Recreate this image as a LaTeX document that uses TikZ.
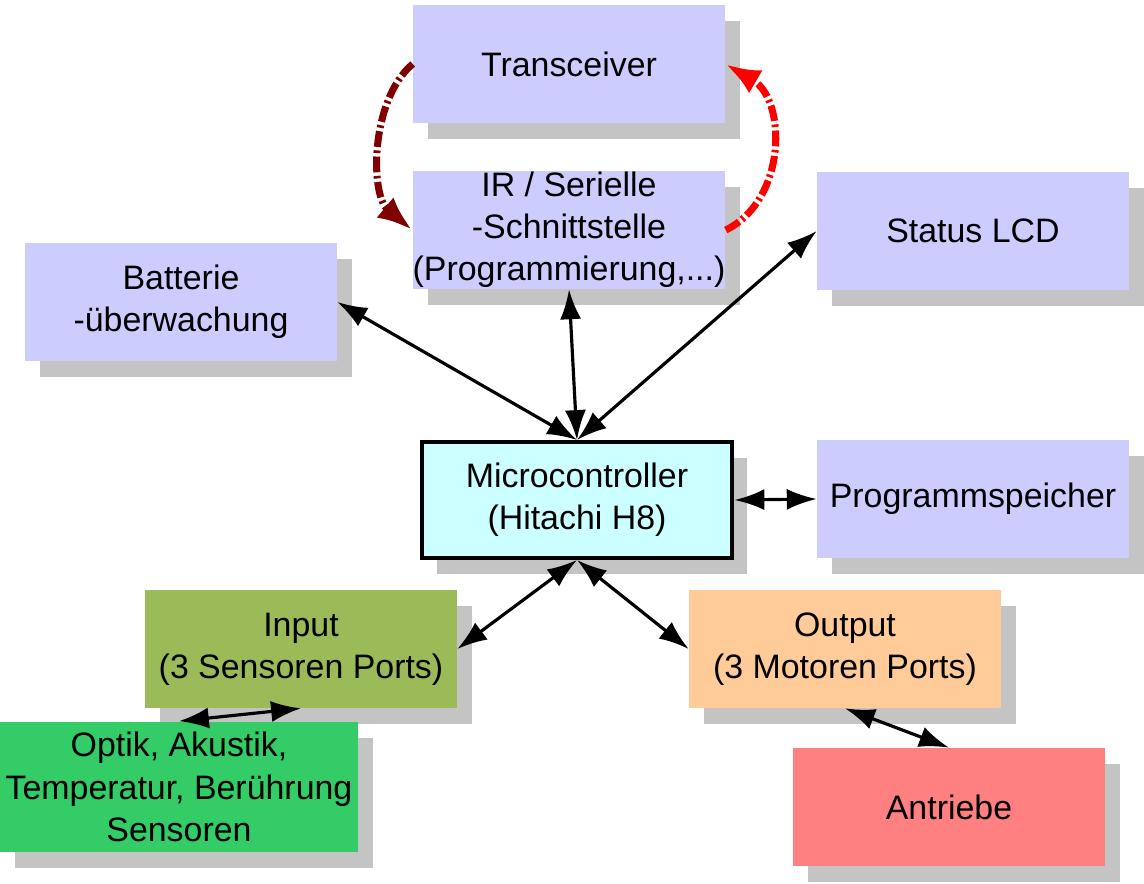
\documentclass[tikz,border=0pt]{standalone}
\usepackage{fontspec}
\setmainfont{Liberation Sans}
\usetikzlibrary{arrows.meta,shadows}

\definecolor{boxblue}{HTML}{CCCCFF}
\definecolor{mccyan}{HTML}{CCFFFF}
\definecolor{inolive}{HTML}{9BBB59}
\definecolor{sensgreen}{HTML}{33CC66}
\definecolor{outpeach}{HTML}{FFCC99}
\definecolor{drivered}{HTML}{FF8080}
\definecolor{shadowgray}{HTML}{C4C4C4}
\definecolor{darkred}{HTML}{800000}

\tikzset{
  block/.style={fill=boxblue, minimum width=6.24cm, minimum height=2.36cm,
    align=center, inner sep=0pt, font=\fontsize{19.3}{24}\selectfont,
    drop shadow={shadow xshift=0.3cm, shadow yshift=-0.32cm, fill=shadowgray, opacity=1}},
  wire/.style={{Latex[length=17pt,width=12pt]}-{Latex[length=17pt,width=12pt]}, line width=1.8pt},
  feedback/.style={-{Latex[length=20pt,width=15pt]}, line width=4pt,
    dash pattern=on 9pt off 2pt on 1.5pt off 2pt}
}

\begin{document}
\begin{tikzpicture}[x=0.02cm,y=-0.02cm]
  \useasboundingbox (0,0) rectangle (1144,884);
  \node[block] (trans) at (569,64) {Transceiver};
  \node[block] (ir) at (569,230) {IR / Serielle\\-Schnittstelle\\(Programmierung,...)};
  \node[block] (lcd) at (973,231) {Status LCD};
  \node[block] (batt) at (181,302) {Batterie\\-überwachung};
  \node[block, fill=mccyan, draw, line width=2.3pt, minimum width=6.22cm, minimum height=2.32cm] (mc) at (577,500) {Microcontroller\\(Hitachi H8)};
  \node[block] (prog) at (973,499) {Programmspeicher};
  \node[block, fill=inolive] (in) at (301,649) {Input\\(3 Sensoren Ports)};
  \node[block, fill=outpeach] (out) at (845,649) {Output\\(3 Motoren Ports)};
  \node[block, fill=sensgreen, minimum width=7.16cm, minimum height=2.62cm] (sens) at (179,787) {Optik, Akustik,\\Temperatur, Berührung\\Sensoren};
  \node[block, fill=drivered] (drive) at (949,807) {Antriebe};
  \draw[feedback, darkred] (trans.west) .. controls (370,100) and (370,195) .. (ir.west);
  \draw[feedback, red] (ir.east) .. controls (787,200) and (787,100) .. (trans.east);
  \draw[wire] (batt.east) -- (mc.north);
  \draw[wire] (ir.south) -- (mc.north);
  \draw[wire] (lcd.west) -- (mc.north);
  \draw[wire] (mc.east) -- (prog.west);
  \draw[wire] (mc.south) -- (in.east);
  \draw[wire] (mc.south) -- (out.west);
  \draw[wire] (in.south) -- (sens.north);
  \draw[wire] (out.south) -- (drive.north);
\end{tikzpicture}
\end{document}
